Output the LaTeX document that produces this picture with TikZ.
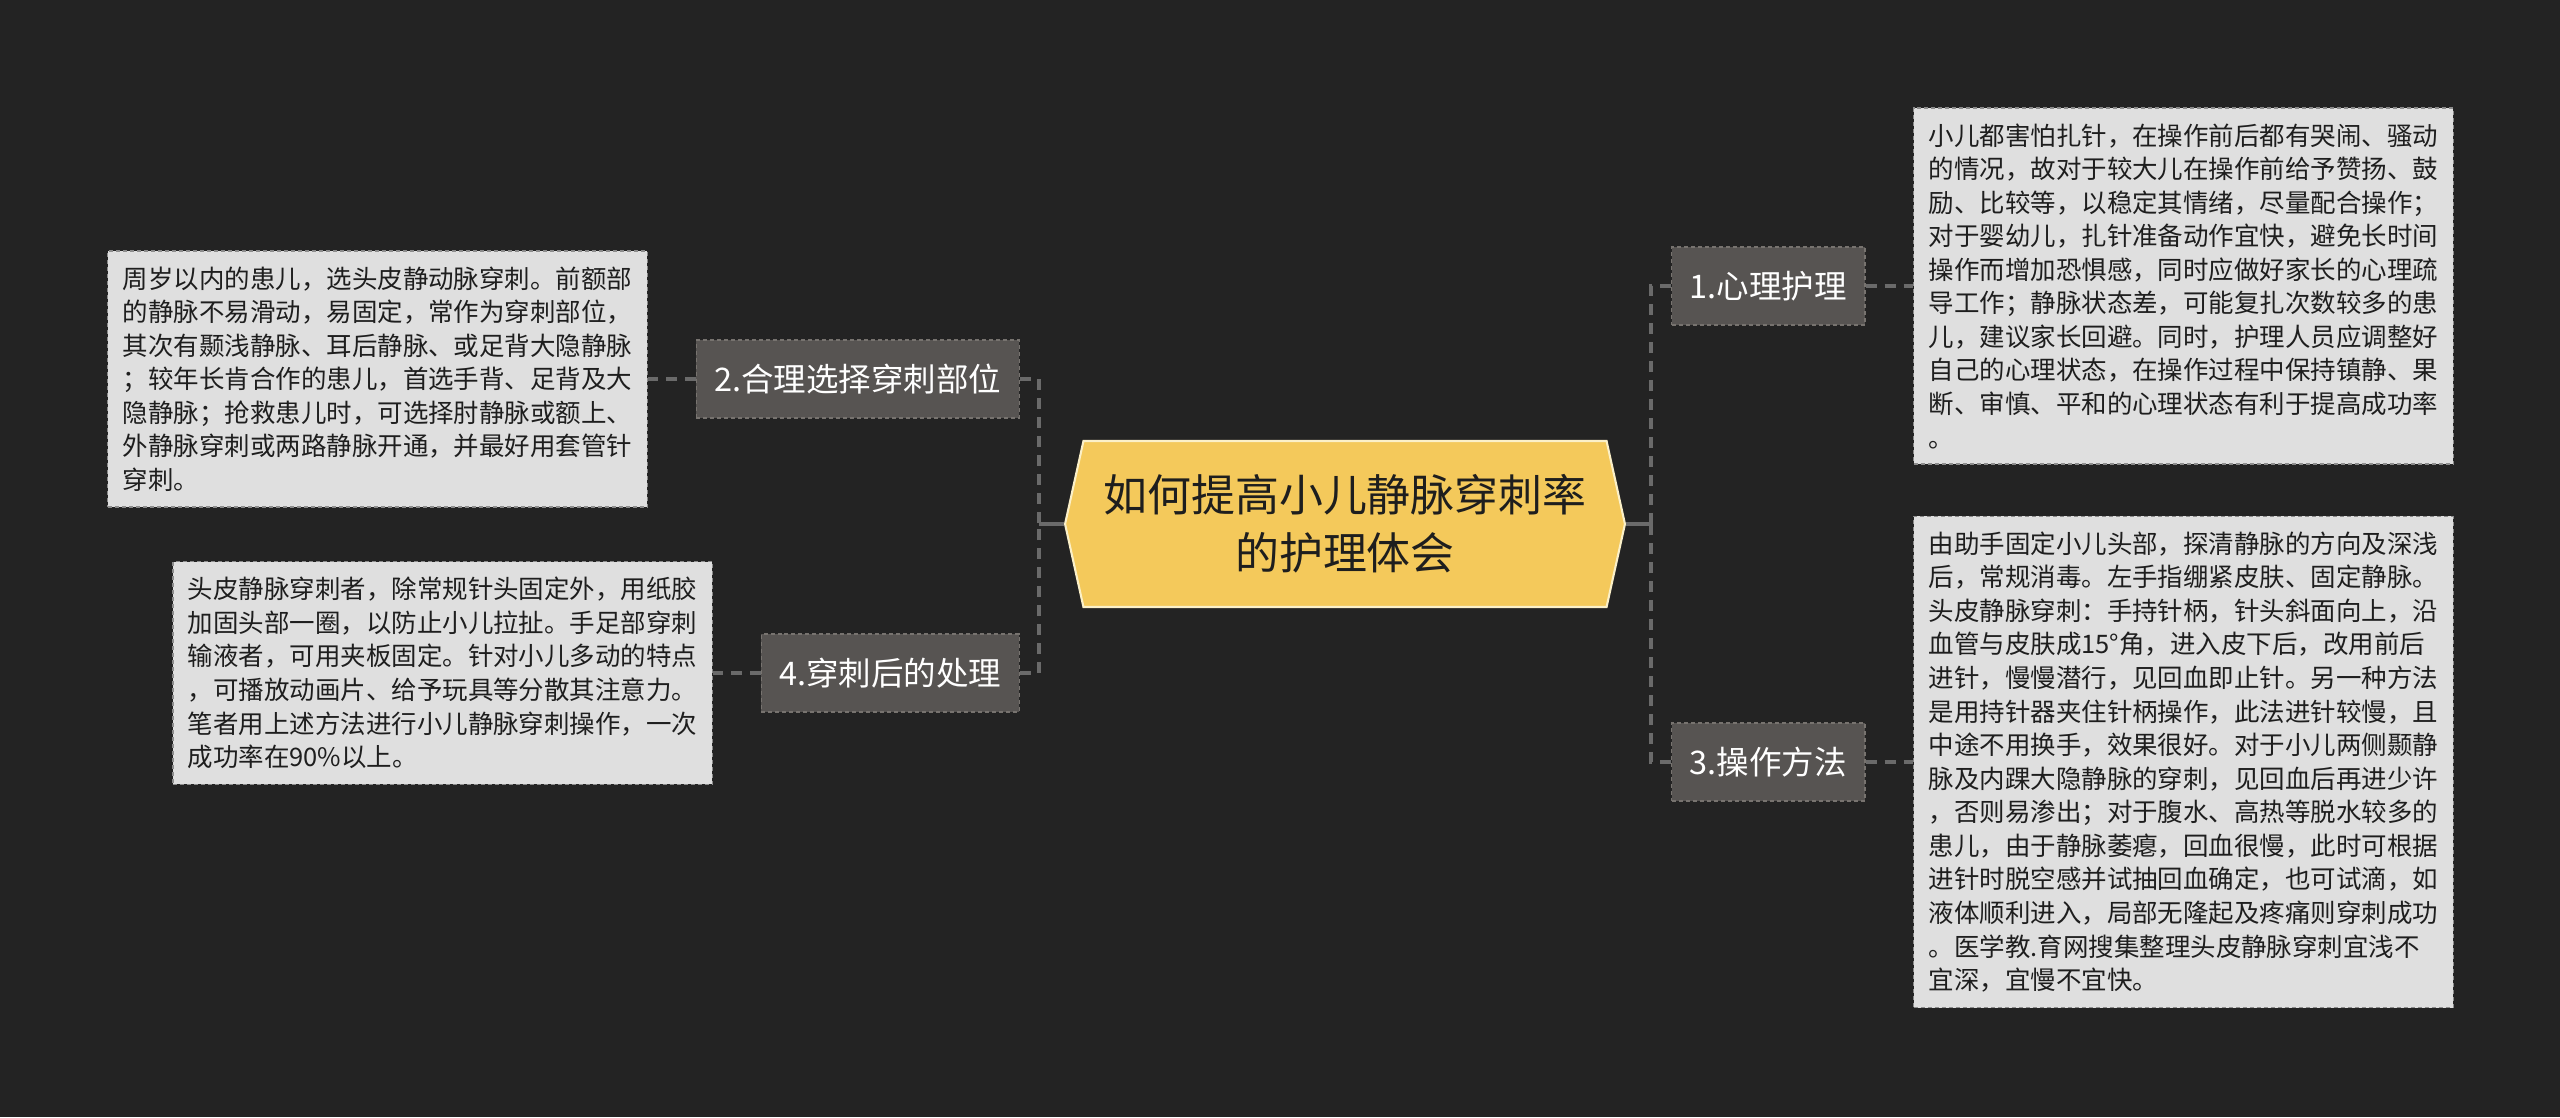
\documentclass[tikz,border=0pt]{standalone}
\usepackage{fontspec}
\setmainfont{Noto Sans CJK SC}
\usepackage{xcolor}
\usetikzlibrary{positioning,shapes.symbols}

\definecolor{bgdark}{HTML}{232323}
\definecolor{hubyellow}{HTML}{F4C95B}
\definecolor{hubedge}{HTML}{FBF0C8}
\definecolor{topicgray}{HTML}{575452}
\definecolor{topicedge}{HTML}{77736F}
\definecolor{notegray}{HTML}{DFDFDF}
\definecolor{noteedge}{HTML}{8C8C8C}
\definecolor{linkgray}{HTML}{6A6A6A}
\definecolor{textdark}{HTML}{1E1E1E}

\begin{document}
\begin{tikzpicture}[
  x=0.02cm, y=-0.02cm,
  node distance=0.95cm and 0.95cm,
  hub/.style={signal, signal to=west and east, signal pointer angle=155, fill=hubyellow, draw=hubedge, line width=1.2pt, align=center, text=textdark, font=\fontsize{25}{33}\selectfont, minimum width=11.2cm, minimum height=3.32cm},
  topic/.style={fill=topicgray, draw=topicedge, dash pattern=on 0.08cm off 0.06cm, line width=0.8pt, text=white, font=\fontsize{18.5}{22}\selectfont, minimum height=1.56cm, inner xsep=0.36cm},
  note/.style={fill=notegray, draw=noteedge, dash pattern=on 0.08cm off 0.06cm, line width=0.8pt, text=textdark, align=left, font=\fontsize{14.5}{19.1}\selectfont, inner xsep=0.3cm, inner ysep=0.31cm},
  link/.style={draw=linkgray, line width=2pt},
  dlink/.style={link, dash pattern=on 0.22cm off 0.16cm}
]
  \fill[bgdark] (0,0) rectangle (2560,1117);
  \useasboundingbox (0,0) rectangle (2560,1117);

  % centre
  \node[hub] (hub) at (1345,524) {如何提高小儿静脉穿刺率\\的护理体会};

  % topics
  \node[topic, anchor=east] (lab2) at (1020,379) {2.合理选择穿刺部位};
  \node[topic, anchor=east] (lab4) at (1020,673) {4.穿刺后的处理};
  \node[topic, anchor=west] (lab1) at (1671,286) {1.心理护理};
  \node[topic, anchor=west] (lab3) at (1671,762) {3.操作方法};

  % details
  \node[note, left=of lab2] (note2) {周岁以内的患儿，选头皮静动脉穿刺。前额部\\
的静脉不易滑动，易固定，常作为穿刺部位，\\
其次有颞浅静脉、耳后静脉、或足背大隐静脉\\
；较年长肯合作的患儿，首选手背、足背及大\\
隐静脉；抢救患儿时，可选择肘静脉或额上、\\
外静脉穿刺或两路静脉开通，并最好用套管针\\
穿刺。};
  \node[note, left=of lab4] (note4) {头皮静脉穿刺者，除常规针头固定外，用纸胶\\
加固头部一圈，以防止小儿拉扯。手足部穿刺\\
输液者，可用夹板固定。针对小儿多动的特点\\
，可播放动画片、给予玩具等分散其注意力。\\
笔者用上述方法进行小儿静脉穿刺操作，一次\\
成功率在90\%以上。};
  \node[note, right=of lab1] (note1) {小儿都害怕扎针，在操作前后都有哭闹、骚动\\
的情况，故对于较大儿在操作前给予赞扬、鼓\\
励、比较等，以稳定其情绪，尽量配合操作；\\
对于婴幼儿，扎针准备动作宜快，避免长时间\\
操作而增加恐惧感，同时应做好家长的心理疏\\
导工作；静脉状态差，可能复扎次数较多的患\\
儿，建议家长回避。同时，护理人员应调整好\\
自己的心理状态，在操作过程中保持镇静、果\\
断、审慎、平和的心理状态有利于提高成功率\\
。};
  \node[note, right=of lab3] (note3) {由助手固定小儿头部，探清静脉的方向及深浅\\
后，常规消毒。左手指绷紧皮肤、固定静脉。\\
头皮静脉穿刺：手持针柄，针头斜面向上，沿\\
血管与皮肤成15°角，进入皮下后，改用前后\\
进针，慢慢潜行，见回血即止针。另一种方法\\
是用持针器夹住针柄操作，此法进针较慢，且\\
中途不用换手，效果很好。对于小儿两侧颞静\\
脉及内踝大隐静脉的穿刺，见回血后再进少许\\
，否则易渗出；对于腹水、高热等脱水较多的\\
患儿，由于静脉萎瘪，回血很慢，此时可根据\\
进针时脱空感并试抽回血确定，也可试滴，如\\
液体顺利进入，局部无隆起及疼痛则穿刺成功\\
。医学教.育网搜集整理头皮静脉穿刺宜浅不\\
宜深，宜慢不宜快。};

  % connectors
  \coordinate[left=0.5cm of hub.west] (hubL);
  \coordinate[right=0.5cm of hub.east] (hubR);
  \draw[link] (hub.west) -- (hubL);
  \draw[link] (hub.east) -- (hubR);
  \draw[dlink] (lab2.east) -| (hubL);
  \draw[dlink] (lab4.east) -| (hubL);
  \draw[dlink] (lab1.west) -| (hubR);
  \draw[dlink] (lab3.west) -| (hubR);
  \draw[dlink] (lab2.west) -- (note2.east);
  \draw[dlink] (lab4.west) -- (note4.east);
  \draw[dlink] (lab1.east) -- (note1.west);
  \draw[dlink] (lab3.east) -- (note3.west);
\end{tikzpicture}
\end{document}
